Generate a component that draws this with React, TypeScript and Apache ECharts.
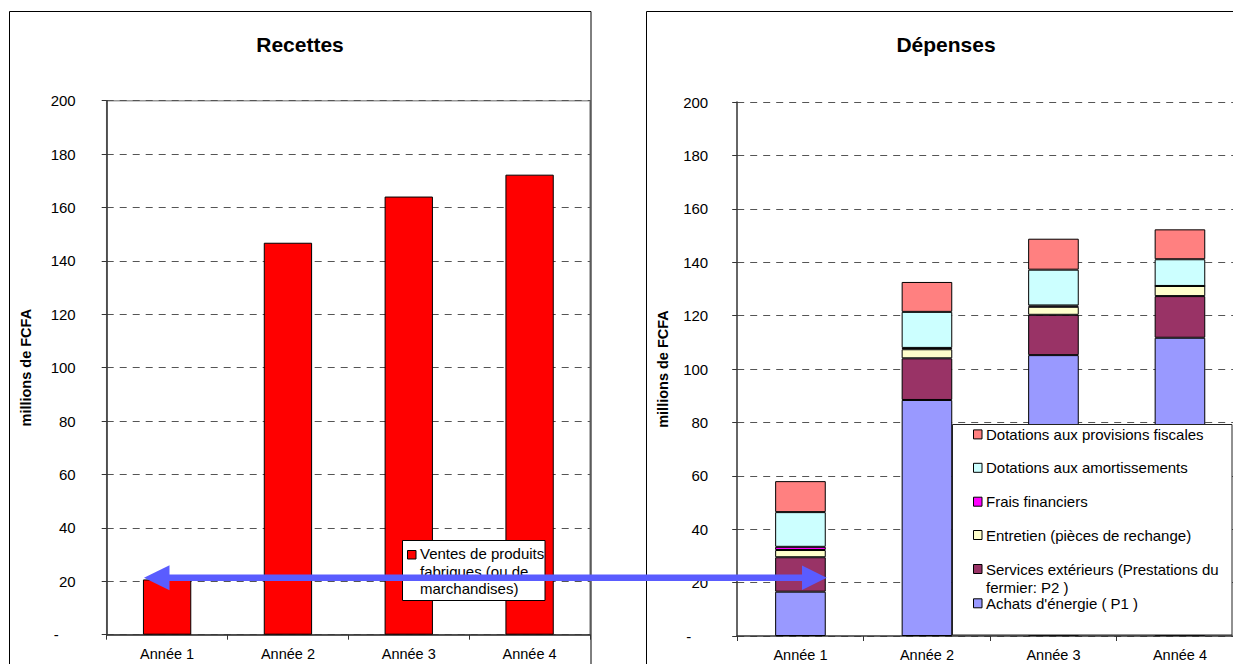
import React, { useEffect, useRef } from 'react';
import * as echarts from 'echarts';

const categories = ['Année 1', 'Année 2', 'Année 3', 'Année 4'];

const recettesName = 'Ventes de produits fabriques (ou de marchandises)';
const recettesLegendLines = ['Ventes de produits', 'fabriques (ou de', 'marchandises)'];
const recettesValues = [20.7, 146.8, 164.1, 172.3];

const achatsEnergie = [16.6, 88.4, 105.2, 111.7];
const servicesExterieurs = [12.9, 15.6, 15.1, 15.6];
const entretien = [2.7, 3.4, 3.0, 3.8];
const fraisFinanciers = [1.2, 0.5, 0.5, 0];
const dotationsAmortissements = [13.0, 13.5, 13.4, 10.0];
const dotationsProvisions = [11.6, 11.2, 11.6, 11.2];

const depensesNames = [
  "Achats d'énergie ( P1 )",
  'Services extérieurs (Prestations du fermier: P2 )',
  'Entretien (pièces de rechange)',
  'Frais financiers',
  'Dotations aux amortissements',
  'Dotations aux provisions fiscales',
];
const depensesLegendLines = [
  ["Achats d'énergie ( P1 )"],
  ['Services extérieurs (Prestations du', 'fermier: P2 )'],
  ['Entretien (pièces de rechange)'],
  ['Frais financiers'],
  ['Dotations aux amortissements'],
  ['Dotations aux provisions fiscales'],
];
const depensesValues = [
  achatsEnergie,
  servicesExterieurs,
  entretien,
  fraisFinanciers,
  dotationsAmortissements,
  dotationsProvisions,
];
const depensesColors = ['#9999ff', '#993366', '#ffffcc', '#ff00ff', '#ccffff', '#ff8080'];

const yMin = 0;
const yMax = 200;
const yStep = 20;
const zeroTickLabel = '-';

const FONT = "'Liberation Sans', Arial, Helvetica, sans-serif";

function yAxisFor(gridIndex: number, margin: number, nameGap: number) {
  return {
    type: 'value',
    gridIndex,
    min: yMin,
    max: yMax,
    interval: yStep,
    name: 'millions de FCFA',
    nameLocation: 'middle',
    nameGap,
    nameTextStyle: { fontWeight: 'bold', fontSize: 14.5, color: '#000', fontFamily: FONT },
    axisLine: { show: true, lineStyle: { color: '#333', width: 1.5 } },
    axisTick: { show: true, length: 5, lineStyle: { color: '#333', width: 1 } },
    axisLabel: {
      color: '#000',
      fontSize: 15,
      fontFamily: FONT,
      margin,
      formatter: (v: number) => (v === 0 ? '{z|' + zeroTickLabel + '}' : String(v)),
      rich: { z: { fontSize: 15, color: '#000', fontFamily: FONT, padding: [0, 17, 0, 0] } },
    },
    splitLine: { show: true, lineStyle: { color: '#555', width: 1, type: [7, 6] } },
  };
}

function xAxisFor(gridIndex: number, margin: number) {
  return {
    type: 'category',
    gridIndex,
    data: categories,
    boundaryGap: true,
    axisLine: { show: true, lineStyle: { color: '#333', width: 1.5 } },
    axisTick: { show: true, length: 5, alignWithLabel: false, lineStyle: { color: '#333', width: 1 } },
    axisLabel: { color: '#000', fontSize: 14.5, fontFamily: FONT, margin, interval: 0 },
    splitLine: { show: false },
  };
}

export default function App() {
  const ref = useRef<HTMLDivElement>(null);

  useEffect(() => {
    if (!ref.current) return;
    const chart = echarts.init(ref.current, undefined, { renderer: 'svg' });

    const graphic: any[] = [];
    // panel frames
    graphic.push({
      type: 'rect', z: 0,
      shape: { x: 9.5, y: 11.5, width: 581.5, height: 700 },
      style: { fill: 'none', stroke: '#000', lineWidth: 1 },
    });
    graphic.push({
      type: 'rect', z: 0,
      shape: { x: 646.5, y: 11.5, width: 700, height: 700 },
      style: { fill: 'none', stroke: '#000', lineWidth: 1 },
    });
    // titles
    graphic.push({
      type: 'text', z: 50,
      style: { text: 'Recettes', x: 300, y: 44, align: 'center', verticalAlign: 'middle', fontSize: 21, fontWeight: 'bold', fontFamily: FONT, fill: '#000' },
    });
    graphic.push({
      type: 'text', z: 50,
      style: { text: 'Dépenses', x: 946, y: 44, align: 'center', verticalAlign: 'middle', fontSize: 21, fontWeight: 'bold', fontFamily: FONT, fill: '#000' },
    });

    // left legend
    graphic.push({
      type: 'rect', z: 100,
      shape: { x: 402.5, y: 540.5, width: 142.5, height: 60 },
      style: { fill: '#fff', stroke: '#000', lineWidth: 1 },
    });
    graphic.push({
      type: 'rect', z: 101,
      shape: { x: 407.5, y: 550.5, width: 8.5, height: 8.5 },
      style: { fill: '#ff0000', stroke: '#000', lineWidth: 1 },
    });
    recettesLegendLines.forEach((t, i) => {
      graphic.push({
        type: 'text', z: 101,
        style: { text: t, x: 420, y: 553.5 + i * 17.7, align: 'left', verticalAlign: 'middle', fontSize: 15, fontFamily: FONT, fill: '#000' },
      });
    });

    // right legend
    graphic.push({
      type: 'rect', z: 100,
      shape: { x: 952.5, y: 424.5, width: 279.5, height: 210.5 },
      style: { fill: '#fff', stroke: '#222', lineWidth: 1 },
    });
    const rowY = [603.3, 569, 535, 501.7, 467.8, 434.4];
    depensesLegendLines.forEach((lines, i) => {
      const cy = rowY[i];
      graphic.push({
        type: 'rect', z: 101,
        shape: { x: 973.5, y: cy - 4.5, width: 8.5, height: 9 },
        style: { fill: depensesColors[i], stroke: '#000', lineWidth: 1 },
      });
      lines.forEach((t, j) => {
        graphic.push({
          type: 'text', z: 101,
          style: { text: t, x: 986, y: cy + j * 18.7, align: 'left', verticalAlign: 'middle', fontSize: 15, fontFamily: FONT, fill: '#000' },
        });
      });
    });

    // double arrow
    const arrowColor = '#5a5cff';
    const ay = 577.8;
    graphic.push({
      type: 'line', z: 120,
      shape: { x1: 165, y1: ay, x2: 806, y2: ay },
      style: { stroke: arrowColor, lineWidth: 6.5 },
    });
    graphic.push({
      type: 'polygon', z: 120,
      shape: { points: [[144, ay], [169.5, ay - 12.5], [169.5, ay + 12.5]] },
      style: { fill: arrowColor },
    });
    graphic.push({
      type: 'polygon', z: 120,
      shape: { points: [[826.7, ay], [802, ay - 12.3], [802, ay + 12.3]] },
      style: { fill: arrowColor },
    });

    const series: any[] = [
      {
        type: 'bar',
        name: recettesName,
        xAxisIndex: 0,
        yAxisIndex: 0,
        data: recettesValues,
        barWidth: '40%',
        itemStyle: { color: '#ff0000', borderColor: '#000', borderWidth: 1 },
      },
    ];
    depensesNames.forEach((name, i) => {
      series.push({
        type: 'bar',
        name,
        xAxisIndex: 1,
        yAxisIndex: 1,
        stack: 'depenses',
        data: depensesValues[i],
        barWidth: '40%',
        itemStyle: { color: depensesColors[i], borderColor: '#000', borderWidth: 1 },
      });
    });

    chart.setOption({
      animation: false,
      backgroundColor: '#fff',
      textStyle: { fontFamily: FONT },
      grid: [
        { left: 106.7, top: 100.7, width: 483.3, height: 534, show: true, borderColor: '#9a9a9a', borderWidth: 1.5, backgroundColor: 'transparent', outerBoundsMode: 'none', containLabel: false },
        { left: 737.2, top: 102, width: 506, height: 534, show: false, outerBoundsMode: 'none', containLabel: false },
      ],
      xAxis: [xAxisFor(0, 12), xAxisFor(1, 11)],
      yAxis: [yAxisFor(0, 31, 73), yAxisFor(1, 29, 67)],
      series,
      graphic,
    });

    return () => chart.dispose();
  }, []);

  return (
    <div
      ref={ref}
      style={{ position: 'fixed', left: 0, top: 0, width: 1233, height: 664, background: '#fff' }}
    />
  );
}
